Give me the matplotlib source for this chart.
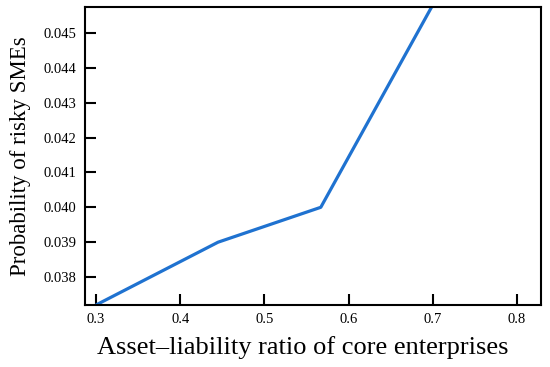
import matplotlib
matplotlib.use("Agg")
import matplotlib.pyplot as plt

ratio = [0.30, 0.445, 0.567, 0.70]
prob = [0.0372, 0.0390, 0.0400, 0.0458]
xticks = [0.3, 0.4, 0.5, 0.6, 0.7, 0.8]
yticks = [0.038, 0.039, 0.040, 0.041, 0.042, 0.043, 0.044, 0.045]

plt.rcParams['font.family'] = ['Liberation Serif', 'DejaVu Serif']
fig = plt.figure(figsize=(5.5, 3.67), dpi=100)
ax = fig.add_axes([85/550, 1-305/367, (541-85)/550, (305-7)/367])
ax.plot(ratio, prob, color='#1f72d0', lw=2.3, solid_capstyle='butt')
ax.set_xlim(0.287, 0.8285)
ax.set_ylim(0.03720, 0.04574)
ax.set_xticks(xticks)
ax.set_xticklabels([f"{v:.1f}" for v in xticks])
ax.set_yticks(yticks)
ax.set_yticklabels([f"{v:.3f}" for v in yticks])
ax.tick_params(direction='in', length=8, width=1.5, labelsize=10.5, pad=6)
for s in ax.spines.values():
    s.set_linewidth(1.5)
ax.set_xlabel('Asset\u2013liability ratio of core enterprises', fontsize=19, labelpad=5)
ax.xaxis.set_label_coords(0.477, -0.105)
ax.xaxis.label.set_verticalalignment('top')
ax.set_ylabel('Probability of risky SMEs', fontsize=16.5, labelpad=9)
fig.savefig('out.png', dpi=100)
